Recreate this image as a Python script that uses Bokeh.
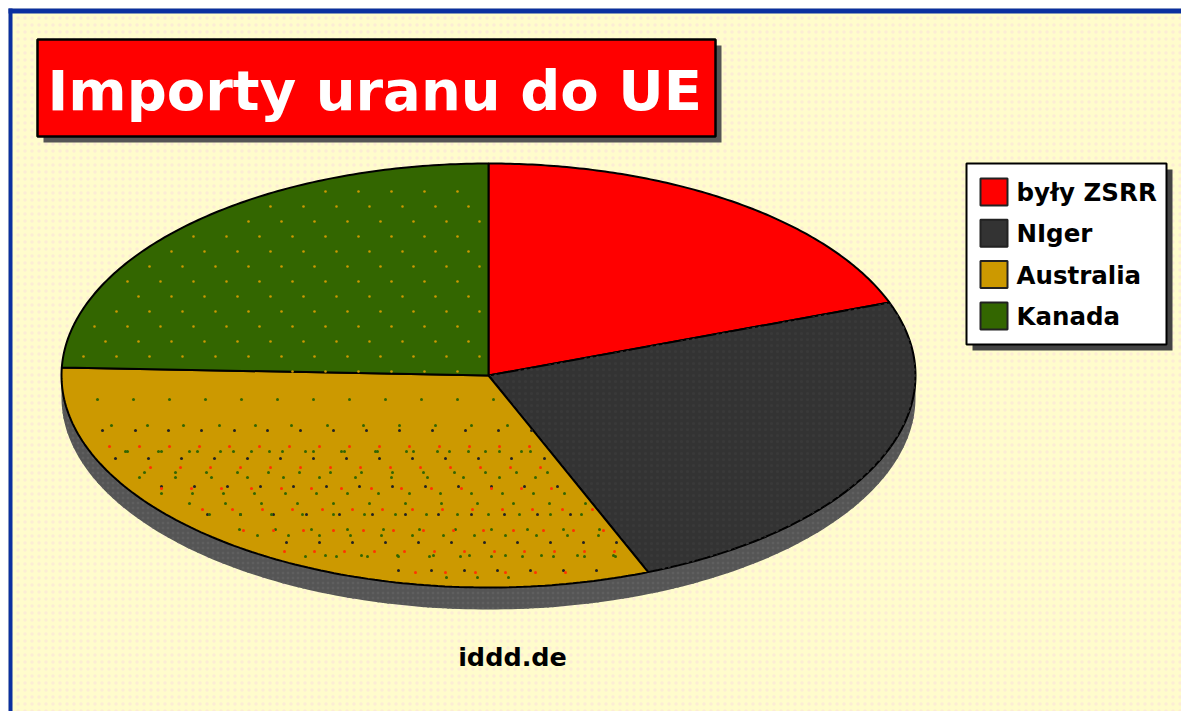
import numpy as np
from bokeh.plotting import figure
from bokeh.embed import file_html
from bokeh.resources import INLINE
from bokeh.core.properties import value

categories = ["były ZSRR", "NIger", "Australia", "Kanada"]
shares = [19.4, 24.5, 31.7, 24.4]
colors = ["#ff0000", "#333333", "#cc9900", "#336600"]
title_text = "Importy uranu do UE"
source_text = "iddd.de"

CX, CY, RX, RY, DEPTH = 488, 375, 427, 212, 22
FONT = value("DejaVu Sans")

p = figure(width=1181, height=711, x_range=(0, 1181), y_range=(711, 0),
           output_backend="svg", toolbar_location=None, min_border=0)
p.axis.visible = False
p.grid.visible = False
p.outline_line_color = None
p.background_fill_color = "#ffffff"
p.border_fill_color = "#ffffff"

# textured page ground and blue frame (top and left edges only)
p.quad(left=[8], right=[1181], top=[8], bottom=[711], fill_color="#fffccc",
       line_color=None, hatch_pattern="dot", hatch_color="#fcecd4",
       hatch_scale=7, hatch_weight=1)
p.quad(left=[8], right=[1181], top=[8], bottom=[13], fill_color="#0a2fa0", line_color=None)
p.quad(left=[8], right=[12], top=[8], bottom=[711], fill_color="#0a2fa0", line_color=None)

# title box
p.quad(left=[43], right=[721], top=[45], bottom=[142], fill_color="#555555", line_color=None)
p.quad(left=[37], right=[715], top=[39], bottom=[136], fill_color="#ff0000",
       line_color="#000000", line_width=2.5)
p.text(x=[47], y=[90], text=[title_text], text_color="#ffffff", text_font=FONT,
       text_font_style="bold", text_font_size="56px",
       text_align="left", text_baseline="middle")

# pie rim
t = np.radians(np.linspace(0, 180, 181))
rim_x = np.concatenate([CX + RX * np.cos(t), CX + RX * np.cos(t[::-1])])
rim_y = np.concatenate([CY + RY * np.sin(t) + DEPTH, CY + RY * np.sin(t[::-1])])
p.patch(rim_x, rim_y, fill_color="#555555", line_color=None,
        hatch_pattern="dot", hatch_color="#5f5f5f", hatch_scale=5)

# pie slices, clockwise from the top, drawn from the shares
fractions = np.cumsum([0] + shares) / sum(shares)


def in_slice(px, py, i):
    """True for lattice points lying inside slice i, 4% inside the ellipse."""
    dx, dy = (px - CX) / RX, (CY - py) / RY
    ang = np.mod(np.arctan2(dx, dy), 2 * np.pi) / (2 * np.pi)
    return (dx**2 + dy**2 < 0.96**2) & (ang > fractions[i]) & (ang < fractions[i + 1])


def lattice(x0, y0, sx, sy, shift):
    rows_y = np.arange(y0, CY + RY, sy)
    xs, ys = [], []
    for k, y in enumerate(rows_y):
        row = np.arange(CX - RX + (k * shift) % sx + x0, CX + RX, sx)
        xs.append(row)
        ys.append(np.full(row.size, y))
    return np.concatenate(xs), np.concatenate(ys)


for i, color in enumerate(colors):
    a = 2 * np.pi * np.linspace(fractions[i], fractions[i + 1], 120)
    xs = np.concatenate([[CX], CX + RX * np.sin(a)])
    ys = np.concatenate([[CY], CY - RY * np.cos(a)])
    p.patch(xs, ys, fill_color=color, line_color="#000000", line_width=2)
    if color == "#333333":
        p.patch(xs, ys, fill_color=None, line_color=None, hatch_pattern="dot",
                hatch_color="#393939", hatch_scale=6)

# sparse dot texture on the two textured slices
kx, ky = lattice(0, CY - RY + 28, 33, 15, 11)
m = in_slice(kx, ky, 3)
p.scatter(kx[m], ky[m], size=2.6, color="#cc9900", line_color=None)

for colr, (x0, y0, sx, sy, sh) in (
    ("#336600", (0, 399, 36, 26, 14)),
    ("#222222", (8, 430, 33, 28, 13)),
    ("#ff3300", (18, 446, 30, 21, 11)),
    ("#336600", (4, 451, 31, 21, 17)),
):
    ax, ay = lattice(x0, y0, sx, sy, sh)
    m = in_slice(ax, ay, 2)
    p.scatter(ax[m], ay[m], size=3, color=colr, line_color=None)

# legend
p.quad(left=[972], right=[1172], top=[169], bottom=[350], fill_color="#444444", line_color=None)
p.quad(left=[966], right=[1166], top=[163], bottom=[344], fill_color="#ffffff",
       line_color="#000000", line_width=2)
rows = np.arange(len(categories))
p.quad(left=[980] * 4, right=[1007] * 4, top=178 + 41.3 * rows, bottom=205 + 41.3 * rows,
       fill_color=colors, line_color="#222222", line_width=2)
p.text(x=[1016] * 4, y=192 + 41.3 * rows, text=categories, text_color="#000000",
       text_font=FONT, text_font_style="bold", text_font_size="24.5px",
       text_align="left", text_baseline="middle")

p.text(x=[512], y=[656], text=[source_text], text_color="#000000", text_font=FONT,
       text_font_style="bold", text_font_size="25.5px",
       text_align="center", text_baseline="middle")

open("out.html", "w").write(file_html(p, INLINE))
